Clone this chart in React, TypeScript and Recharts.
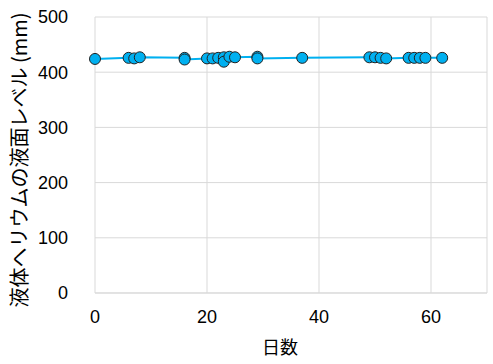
import React from "react";
import {
  ScatterChart,
  Scatter,
  XAxis,
  YAxis,
  CartesianGrid,
  Label,
} from "recharts";

// Days since start and the measured liquid-helium level (mm)
const days = [0, 6, 7, 8, 16, 16, 20, 21, 22, 23, 23, 24, 25, 29, 29, 37, 49, 50, 51, 52, 56, 57, 58, 59, 62];
const levels = [424, 426, 425, 427, 426, 423, 425, 425, 426, 427, 419, 428, 427, 428, 425, 426, 427, 427, 426, 425, 426, 426, 426, 426, 426];

const xTicks = [0, 20, 40, 60];
const yTicks = [0, 100, 200, 300, 400, 500];

const xTitle = "日数";
const yTitle = "液体ヘリウムの液面レベル (mm)";

const points = days.map((d, i) => ({ day: d, level: levels[i] }));

const tickStyle = { fill: "#000", fontSize: 18, fontFamily: "'Liberation Sans', Arial, sans-serif" };

const Marker = (props: any) => (
  <circle cx={props.cx} cy={props.cy} r={5.5} fill="#00B0F0" stroke="#222" strokeWidth={1} />
);

export default function App() {
  return (
    <div style={{ position: "absolute", left: 0, top: 0, width: 493, height: 364, background: "#fff" }}>
      <ScatterChart width={493} height={364} margin={{ top: 17, right: 6, bottom: 0, left: 0 }}>
        <CartesianGrid stroke="#d9d9d9" strokeWidth={1} />
        <XAxis
          type="number"
          dataKey="day"
          domain={[0, 70]}
          ticks={xTicks}
          height={71}
          tickLine={false}
          tickSize={0}
          tickMargin={17}
          axisLine={{ stroke: "#d9d9d9" }}
          tick={tickStyle}
        >
          <Label
            content={() => (
              <text
                x={280}
                y={346}
                textAnchor="middle"
                dominantBaseline="central"
                fontSize={18}
                fontFamily="'Noto Sans CJK JP', sans-serif"
                fill="#000"
              >
                {xTitle}
              </text>
            )}
          />
        </XAxis>
        <YAxis
          type="number"
          dataKey="level"
          domain={[0, 500]}
          ticks={yTicks}
          width={95}
          tickLine={false}
          tickSize={0}
          tickMargin={27}
          axisLine={false}
          tick={tickStyle}
        >
          <Label
            content={() => (
              <text
                transform="translate(18,160) rotate(-90)"
                textAnchor="middle"
                dominantBaseline="central"
                fontSize={20}
                fontFamily="'Noto Sans CJK JP', sans-serif"
                fill="#000"
              >
                {yTitle}
              </text>
            )}
          />
        </YAxis>
        <Scatter
          data={points}
          line={{ stroke: "#00B0F0", strokeWidth: 2 }}
          shape={Marker}
          isAnimationActive={false}
        />
      </ScatterChart>
    </div>
  );
}
